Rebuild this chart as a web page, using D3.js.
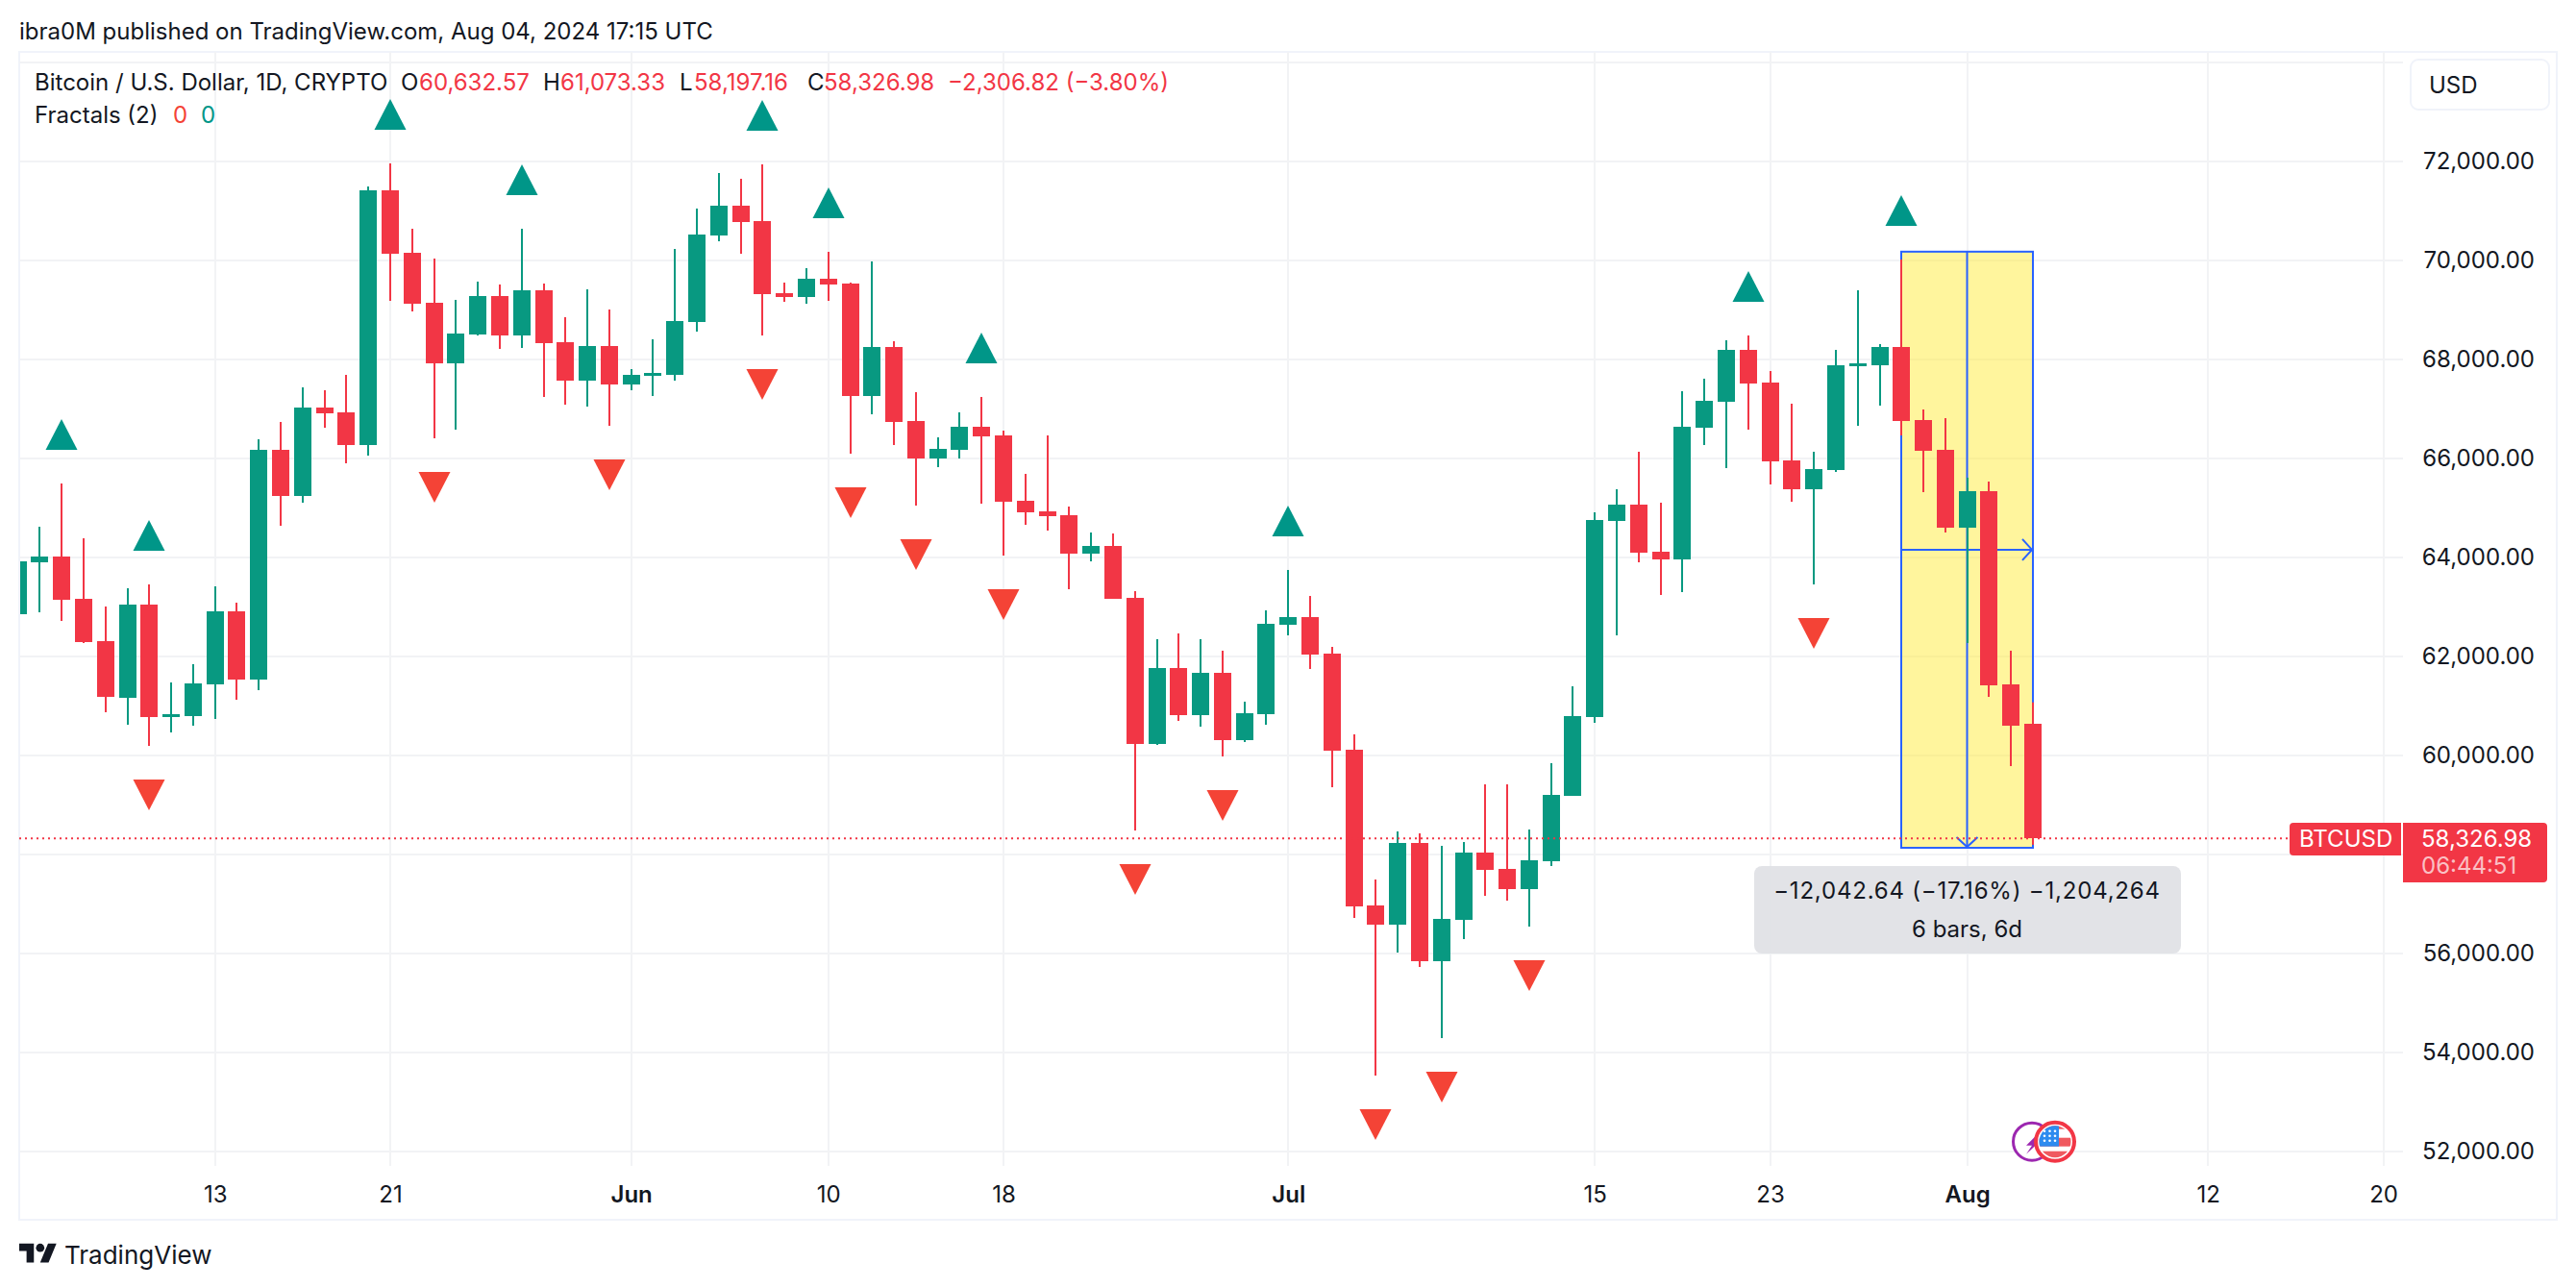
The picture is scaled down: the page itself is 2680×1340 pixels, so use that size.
<!DOCTYPE html>
<html><head><meta charset="utf-8">
<script src="https://cdn.jsdelivr.net/npm/d3@7/dist/d3.min.js"></script>
<style>html,body{margin:0;padding:0;background:#fff}svg{display:block}text{font-family:Inter,"Noto Sans",sans-serif}</style>
</head><body><div id="chart"></div>
<script>
const firstDay = "2024-05-04";
const opens  = [62854,63903,64019,63165,62311,61165,63049,60796,60796,61437,62913,61534,66175,65243,67029,66932,66272,71417,70155,69146,67922,68505,69282,68485,69398,68350,67573,68272,67495,67689,67689,68757,70505,71107,70796,69340,69262,69631,69534,67262,68252,66757,66000,66175,66641,66466,65146,64932,64854,64078,64233,63184,60233,61767,60816,61670,60311,60835,62641,62796,62058,60116,56971,56582,58233,55845,56680,58039,57709,57301,57864,59184,60777,64738,65068,64117,63961,66621,67146,68194,67534,65961,65379,65767,67883,67883,68252,66777,66175,64602,65340,61437,60632.57];
const highs  = [64500,64621,65495,64388,63010,63379,63456,61476,61845,63417,63087,66388,66738,67437,67379,67689,71495,71961,70641,70039,69204,69573,69515,70641,69534,68854,69417,69010,67806,68408,70233,71049,71767,71650,71942,69553,69845,70175,69553,69981,68369,67340,66427,66932,67243,66563,65689,66466,65029,64505,64485,63320,62350,62466,62350,62117,61087,62932,63748,63223,62194,60427,57495,58466,58427,58175,58252,59417,59417,58505,59845,61398,64913,65379,66136,65107,67359,67612,68388,68485,67767,67107,66136,68194,69398,68311,70019,66990,66815,65612,65534,62117,61073.33];
const lows   = [62600,62893,62718,62272,60874,60621,60194,60466,60602,60738,61126,61320,64641,65107,66621,65903,66058,69184,68971,66408,66583,68485,68214,68233,67243,67087,67049,66660,67379,67262,67573,68563,70388,70136,68485,69165,69126,69184,66097,66893,66272,65049,65825,66000,65087,64039,64660,64544,63359,63922,63165,58485,60214,60699,60583,59981,60272,60621,62427,61748,59359,56718,53534,56019,55728,54291,56291,57165,57068,56544,57767,59184,60660,62427,63903,63243,63301,66272,65806,66583,65476,65126,63456,65728,66660,67068,66466,65320,64505,62272,61184,59786,58197.16];
const closes = [63922,64019,63146,62291,61184,63049,60777,60835,61456,62913,61534,66175,65243,67029,66913,66272,71417,70136,69126,67922,68524,69282,68485,69398,68330,67573,68272,67495,67689,67728,68777,70524,71107,70777,69320,69262,69631,69515,67262,68252,66738,66000,66194,66641,66447,65126,64913,64835,64078,64233,63165,60233,61767,60816,61670,60311,60854,62660,62796,62039,60097,56951,56582,58233,55845,56699,58039,57689,57301,57883,59204,60796,64757,65068,64097,63961,66641,67165,68194,67515,65942,65379,65786,67883,67922,68252,66757,66155,64602,65340,61417,60602,58326.98];

const fractalHighDays = ["2024-05-06","2024-05-10","2024-05-21","2024-05-27","2024-06-07","2024-06-10","2024-06-17","2024-07-01","2024-07-22","2024-07-29"];
const fractalLowDays  = ["2024-05-10","2024-05-23","2024-05-31","2024-06-07","2024-06-11","2024-06-14","2024-06-18","2024-06-24","2024-06-28","2024-07-05","2024-07-08","2024-07-12","2024-07-25"];

const gridPrices  = [74000,72000,70000,68000,66000,64000,62000,60000,58000,56000,54000,52000];
const priceTicks  = [72000,70000,68000,66000,64000,62000,60000,56000,54000,52000];
const timeTickDays = ["2024-05-13","2024-05-21","2024-06-01","2024-06-10","2024-06-18","2024-07-01","2024-07-15","2024-07-23","2024-08-01","2024-08-12","2024-08-20"];
const timeTickText = ["13","21","Jun","10","18","Jul","15","23","Aug","12","20"];
const boldTicks    = ["Jun","Jul","Aug"];

const measureStart = "2024-07-29", measureEnd = "2024-08-04";
const measureFrom = 70178.04, measureTo = 58135.40;
const lastPrice = 58326.98;

const publishLine = "ibra0M published on TradingView.com, Aug 04, 2024 17:15 UTC";
const legendTitle = "Bitcoin / U.S. Dollar, 1D, CRYPTO";
const ohlcLabels = ["O","H","L","C"];
const ohlcValues = ["60,632.57","61,073.33","58,197.16","58,326.98"];
const changeText = "\u22122,306.82 (\u22123.80%)";
const measureLine1 = "\u221212,042.64 (\u221217.16%) \u22121,204,264";
const measureLine2 = "6 bars, 6d";

const GREEN="#089981", RED="#F23645", UPTRI="#009688", DNTRI="#F44336", BLUE="#2962FF", INK="#131722", GRID="#F2F3F5", FRAME="#F0F3FA";
const parse = d3.utcParse("%Y-%m-%d");
const W=2680,H=1340;
const svg = d3.select("#chart").append("svg").attr("width",W).attr("height",H).attr("viewBox",[0,0,W,H]);
svg.append("rect").attr("width",W).attr("height",H).attr("fill","#fff");

const x = d3.scaleUtc().domain([parse("2024-05-13"),parse("2024-08-20")]).range([223.7,2479.6]);
const y = d3.scaleLinear().domain([52000,74000]).range([1198,65]);
const days = opens.map((_,i)=>d3.utcDay.offset(parse(firstDay),i));
const bars = days.map((d,i)=>({d,o:opens[i],h:highs[i],l:lows[i],c:closes[i]}));
const byDay = new Map(bars.map(b=>[+b.d,b]));

svg.append("defs").append("clipPath").attr("id","pane").append("rect").attr("x",21).attr("y",55).attr("width",2479).attr("height",1158);

// frame
svg.append("rect").attr("x",20).attr("y",54).attr("width",2640).attr("height",1215).attr("fill","none").attr("stroke",FRAME).attr("stroke-width",2);

// grid
svg.append("g").selectAll("line").data(gridPrices).join("line")
  .attr("x1",20).attr("x2",2500).attr("y1",d=>Math.round(y(d))).attr("y2",d=>Math.round(y(d)))
  .attr("stroke",GRID).attr("stroke-width",2);
svg.append("g").selectAll("line").data(timeTickDays).join("line")
  .attr("x1",d=>Math.round(x(parse(d)))).attr("x2",d=>Math.round(x(parse(d)))).attr("y1",54).attr("y2",1213)
  .attr("stroke",GRID).attr("stroke-width",2);

// event icons
const ev = svg.append("g");
const evX = x(parse("2024-08-04")), evY = y(52200);
ev.append("circle").attr("cx",evX-1).attr("cy",evY).attr("r",19.5).attr("fill","#fff").attr("stroke","#9C27B0").attr("stroke-width",3);
ev.append("path").attr("d",`M${evX+5},${evY-8} L${evX-7},${evY+4} L${evX-1},${evY+4} L${evX-7},${evY+13} L${evX+8},${evY-1} L${evX+2},${evY-1} Z`).attr("fill","#9C27B0");
const fx = evX+23, fy = evY;
svg.select("defs").append("clipPath").attr("id","flag").append("circle").attr("cx",fx).attr("cy",fy).attr("r",16.5);
ev.append("circle").attr("cx",fx).attr("cy",fy).attr("r",20).attr("fill","#fff").attr("stroke",RED).attr("stroke-width",4);
const flag = ev.append("g").attr("clip-path","url(#flag)");
flag.append("rect").attr("x",fx-20).attr("y",fy-20).attr("width",40).attr("height",7).attr("fill","#F0595F");
flag.append("rect").attr("x",fx-20).attr("y",fy-4).attr("width",40).attr("height",9).attr("fill","#F0595F");
flag.append("rect").attr("x",fx-20).attr("y",fy+10).attr("width",40).attr("height",10).attr("fill","#F0595F");
flag.append("rect").attr("x",fx-20).attr("y",fy-20).attr("width",24).attr("height",25).attr("fill","#2E8BEF");
[0,1,2].forEach(r=>[0,1,2].forEach(c=>flag.append("circle").attr("cx",fx-11+c*5.5).attr("cy",fy-11+r*5).attr("r",1.3).attr("fill","#fff")));

// measure box
const bx0=Math.round(x(parse(measureStart))), bx1=Math.round(x(parse(measureEnd))), by0=y(measureFrom), by1=y(measureTo);
const bm = svg.append("g");
bm.append("rect").attr("x",bx0).attr("y",by0).attr("width",bx1-bx0).attr("height",by1-by0).attr("fill","rgba(255,235,59,0.5)").attr("stroke",BLUE).attr("stroke-width",2);
const midX=(bx0+bx1)/2, midY=y((measureFrom+measureTo)/2);
bm.append("line").attr("x1",bx0).attr("x2",bx1).attr("y1",midY).attr("y2",midY).attr("stroke",BLUE).attr("stroke-width",2);
bm.append("line").attr("x1",midX).attr("x2",midX).attr("y1",by0).attr("y2",by1).attr("stroke",BLUE).attr("stroke-width",2);
bm.append("path").attr("d",`M${bx1-11},${midY-11} L${bx1-1},${midY} L${bx1-11},${midY+11}`).attr("fill","none").attr("stroke",BLUE).attr("stroke-width",2);
bm.append("path").attr("d",`M${midX-11},${by1-11} L${midX},${by1-1} L${midX+11},${by1-11}`).attr("fill","none").attr("stroke",BLUE).attr("stroke-width",2);

// candles
const cg = svg.append("g").attr("clip-path","url(#pane)");
const bg = cg.selectAll("g").data(bars).join("g").attr("fill",d=>d.c>=d.o?GREEN:RED);
bg.append("rect").attr("x",d=>Math.round(x(d.d))-1).attr("width",2).attr("y",d=>y(d.h)).attr("height",d=>y(d.l)-y(d.h));
bg.append("rect").attr("x",d=>Math.round(x(d.d))-9).attr("width",18)
  .attr("y",d=>Math.round(y(Math.max(d.o,d.c))))
  .attr("height",d=>Math.max(3,Math.round(Math.abs(y(d.o)-y(d.c)))));

// fractals
const TRI_GAP=35, TRI_W=16.5, TRI_H=32;
svg.append("g").selectAll("path").data(fractalHighDays).join("path").attr("fill",UPTRI)
  .attr("d",d=>{const t=parse(d),b=byDay.get(+t),cx=Math.round(x(t)),base=y(b.h)-TRI_GAP;return `M${cx-TRI_W},${base} L${cx},${base-TRI_H} L${cx+TRI_W},${base} Z`;});
svg.append("g").selectAll("path").data(fractalLowDays).join("path").attr("fill",DNTRI)
  .attr("d",d=>{const t=parse(d),b=byDay.get(+t),cx=Math.round(x(t)),base=y(b.l)+TRI_GAP;return `M${cx-TRI_W},${base} L${cx},${base+TRI_H} L${cx+TRI_W},${base} Z`;});

// last price line
svg.append("line").attr("x1",20).attr("x2",2382).attr("y1",y(lastPrice)).attr("y2",y(lastPrice))
  .attr("stroke",RED).attr("stroke-width",2).attr("stroke-dasharray","2 4");

// measure label
svg.append("rect").attr("x",1825).attr("y",901).attr("width",444).attr("height",91).attr("rx",8).attr("fill","rgba(224,225,229,0.93)");
const ml = svg.append("g").attr("text-anchor","middle").attr("font-size",24).attr("fill",INK);
ml.append("text").attr("x",midX).attr("y",935).attr("letter-spacing",0.8).text(measureLine1);
ml.append("text").attr("x",midX).attr("y",975).text(measureLine2);

// axes
const yAxis = d3.axisRight(y).tickValues(priceTicks).tickSize(0).tickPadding(0).tickFormat(d3.format(",.2f"));
const ya = svg.append("g").attr("transform","translate(2637,0)").call(yAxis);
ya.select(".domain").remove();
ya.selectAll("text").attr("text-anchor","end").attr("font-size",24).attr("fill",INK).attr("dy","0.30em").style("font-family","Inter");
const tickMap = new Map(timeTickDays.map((d,i)=>[+parse(d),timeTickText[i]]));
const xAxis = d3.axisBottom(x).tickValues(timeTickDays.map(parse)).tickSize(0).tickPadding(0).tickFormat(d=>tickMap.get(+d));
const xa = svg.append("g").attr("transform","translate(0,1234)").call(xAxis);
xa.select(".domain").remove();
xa.selectAll("text").attr("font-size",24).attr("fill",INK).style("font-family","Inter")
  .attr("font-weight",d=>boldTicks.includes(tickMap.get(+d))?600:400);

// header
const txt=(x0,y0,s,fill=INK,size=24)=>svg.append("text").attr("x",x0).attr("y",y0).attr("font-size",size).attr("fill",fill).text(s);
txt(20,41,publishLine);
txt(36,94,legendTitle);
[417,565,707,840].forEach((px,i)=>txt(px,94,ohlcLabels[i]));
[436,583,722,857].forEach((px,i)=>txt(px,94,ohlcValues[i],RED));
txt(986,94,changeText,RED);
txt(36,128,"Fractals (2)");
txt(180,128,"0",DNTRI);
txt(209,128,"0",UPTRI);

// USD box
svg.append("rect").attr("x",2508).attr("y",62).attr("width",144).attr("height",52).attr("rx",8).attr("fill","#fff").attr("stroke",FRAME).attr("stroke-width",2);
txt(2527,97,"USD");

// last price tags
const tagTop=856;
svg.append("path").attr("d",`M2498,${tagTop} H2386 a4,4 0 0 0 -4,4 V886 a4,4 0 0 0 4,4 H2498 Z`).attr("fill",RED);
svg.append("path").attr("d",`M2500,${tagTop} H2646 a4,4 0 0 1 4,4 V914 a4,4 0 0 1 -4,4 H2500 Z`).attr("fill",RED);
txt(2392,881,"BTCUSD","#fff");
txt(2519,881,d3.format(",.2f")(lastPrice),"#fff");
txt(2519,909,"06:44:51","rgba(255,255,255,0.7)");

// logo
const logo = svg.append("g").attr("transform","translate(20,1289.5) scale(1.09)").attr("fill",INK);
logo.append("path").attr("d","M14 22H7V11H0V4h14v18zM28 22h-8l7.5-18h8L28 22z");
logo.append("circle").attr("cx",20).attr("cy",8).attr("r",4);
txt(67,1315,"TradingView",INK,26);
</script></body></html>
